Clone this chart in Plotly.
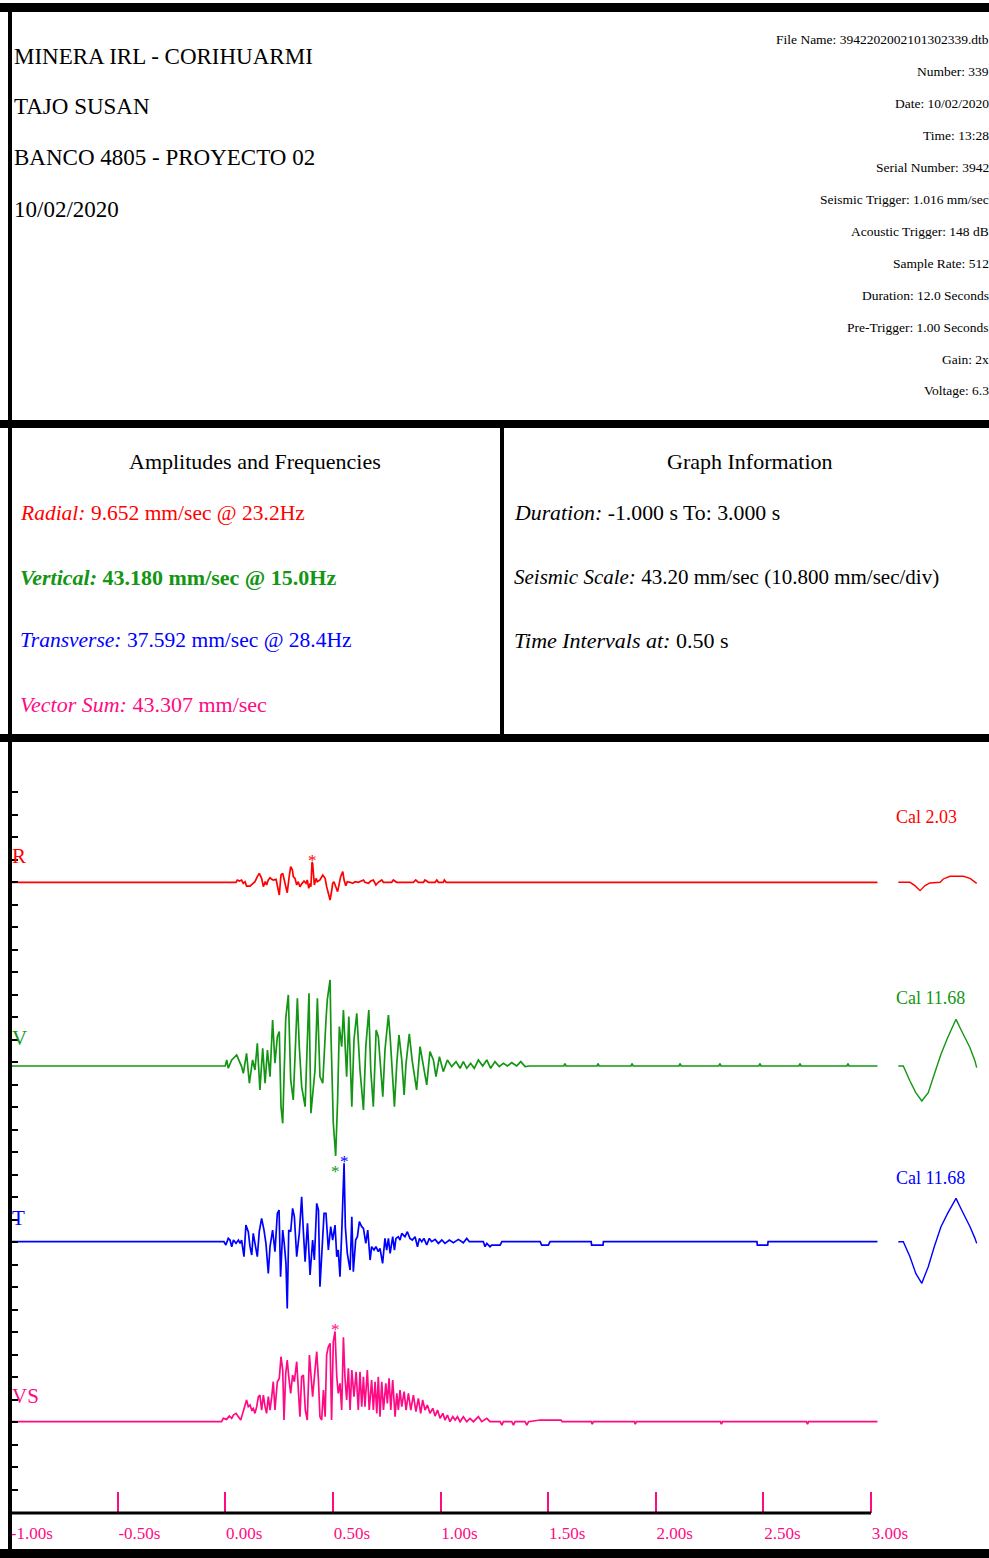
import plotly.graph_objects as go

# ---------------- event values (mm/sec) ----------------
PEAK_R, FREQ_R = 9.652, 23.2
PEAK_V, FREQ_V = 43.180, 15.0
PEAK_T, FREQ_T = 37.592, 28.4
PEAK_VS = 43.307

CHANNELS = ["R", "V", "T", "VS"]

# Radial trace: time (s) / particle velocity (mm/sec)
R_TIME = [
    -1.000, 0.050, 0.056, 0.066, 0.076, 0.084, 0.092, 0.099, 0.115, 0.127,
    0.138, 0.149, 0.158, 0.169, 0.177, 0.186, 0.192, 0.200, 0.208, 0.216,
    0.223, 0.236, 0.242, 0.251, 0.259, 0.267, 0.274, 0.282, 0.288, 0.298,
    0.304, 0.312, 0.316, 0.324, 0.332, 0.339, 0.347, 0.357, 0.366, 0.375,
    0.381, 0.388, 0.394, 0.398, 0.403, 0.406, 0.414, 0.422, 0.428, 0.440,
    0.453, 0.464, 0.471, 0.479, 0.487, 0.495, 0.499, 0.505, 0.515, 0.522,
    0.530, 0.536, 0.546, 0.552, 0.560, 0.567, 0.580, 0.592, 0.603, 0.618,
    0.642, 0.649, 0.665, 0.676, 0.688, 0.700, 0.711, 0.727, 0.735, 0.773,
    0.781, 0.796, 0.874, 0.885, 0.897, 0.921, 0.928, 0.944, 0.975, 0.983,
    0.990, 1.013, 1.018, 1.026, 3.030]
R_VEL = [
    0, 0, 1.1, 0.6, 1.1, -0.5, 0.3, -1.8, -1.8, -0.5,
    0.3, 2.7, 4.3, 1.9, -2.1, 0.3, -1.3, 1.1, 2.2, 1.4,
    1.1, 1.4, -1.3, -6.1, 3.5, 4.3, 1.1, -2.1, -5.0, 3.5,
    7.5, 5.9, 2.7, 1.9, -1.3, 0.3, -2.1, -0.5, 0.6, -0.5,
    1.1, -2.9, -0.5, -2.1, PEAK_R, 9.0, -1.3, 1.9, 0.3, 1.1,
    3.5, 1.9, -2.1, -5.0, -8.5, -3.7, -0.5, 0.3, -2.9, -4.5,
    -0.5, 2.7, 5.1, 1.1, -1.6, 0.3, 0, -0.5, 0.3, 0,
    1.1, 0, -0.5, 0.6, 1.1, -1.3, 0, 1.1, 0, 0,
    1.1, 0, 0, 1.1, 0, 0, 1.1, 0, 0, 1.1,
    0, 0, 1.1, 0, 0]

# Vertical trace
V_TIME = [
    -1.000, 0.000, 0.007, 0.014, 0.030, 0.053, 0.076, 0.084, 0.099, 0.112,
    0.127, 0.138, 0.149, 0.161, 0.174, 0.185, 0.196, 0.208, 0.220, 0.231,
    0.242, 0.251, 0.259, 0.267, 0.281, 0.293, 0.304, 0.316, 0.335, 0.344,
    0.355, 0.371, 0.389, 0.398, 0.417, 0.428, 0.440, 0.453, 0.468, 0.474,
    0.487, 0.491, 0.502, 0.513, 0.522, 0.530, 0.541, 0.549, 0.564, 0.574,
    0.588, 0.598, 0.611, 0.626, 0.642, 0.653, 0.667, 0.676, 0.688, 0.701,
    0.711, 0.732, 0.742, 0.758, 0.766, 0.786, 0.797, 0.807, 0.820, 0.831,
    0.840, 0.855, 0.868, 0.889, 0.905, 0.917, 0.936, 0.951, 0.967, 0.979,
    0.995, 1.013, 1.032, 1.052, 1.072, 1.091, 1.106, 1.122, 1.140, 1.157,
    1.176, 1.196, 1.215, 1.233, 1.253, 1.273, 1.292, 1.311, 1.331, 1.354,
    1.373, 1.393, 1.413,
    1.573, 1.578, 1.583, 1.727, 1.732, 1.737, 1.885, 1.890, 1.895,
    2.108, 2.113, 2.118, 2.293, 2.298, 2.303, 2.479, 2.484, 2.489,
    2.665, 2.670, 2.675, 2.888, 2.893, 2.898, 3.030]
V_VEL = [
    0, 0, 2.9, -1.1, 2.9, 5.3, -0.3, -3.5, 6.1, -8.3,
    2.9, -1.9, 10.9, -11.5, 8.5, -8.3, 7.7, -5.1, 22.1, 1.3,
    14.1, 16.5, -19.5, -27.5, 22.9, 34.1, -6.7, -16.3, 32.5, 9.3,
    -9.9, -19.5, 34.9, -22.7, -1.9, 32.5, -5.1, -8.3, 22.1, 31.7,
    41.3, 15.7, -27.5, -PEAK_V, -16.3, 18.9, 9.3, 26.9, -5.1, 23.7,
    -19.5, 12.5, 25.3, -1.9, -21.1, 9.3, 26.9, -1.9, -19.5, 17.3,
    14.1, -14.7, 7.7, 24.5, 14.1, -19.5, 1.3, 14.9, 2.9, -13.9,
    1.3, 15.4, 2.9, -11.5, 9.3, 2.9, -9.1, 6.9, 2.9, -5.1,
    4.5, -2.7, 2.9, -0.3, 2.1, -1.1, 2.1, -1.1, 1.3, -1.1,
    2.9, 0, 2.9, -1.1, 2.1, -0.3, 1.3, 0, 1.6, 0,
    2.1, -0.3, 0,
    0, 1.2, 0, 0, 1.2, 0, 0, 1.2, 0,
    0, 1.2, 0, 0, 1.2, 0, 0, 1.2, 0,
    0, 1.2, 0, 0, 1.2, 0, 0]

# Transverse trace
T_TIME = [
    -1.000, -0.006, 0.003, 0.014, 0.022, 0.030, 0.038, 0.050, 0.061, 0.069,
    0.076, 0.087, 0.096, 0.107, 0.115, 0.123, 0.130, 0.138, 0.149, 0.158,
    0.169, 0.180, 0.189, 0.200, 0.208, 0.220, 0.231, 0.242, 0.250, 0.257,
    0.267, 0.274, 0.282, 0.288, 0.295, 0.304, 0.313, 0.321, 0.332, 0.344,
    0.355, 0.363, 0.371, 0.382, 0.394, 0.406, 0.414, 0.425, 0.433, 0.440,
    0.450, 0.459, 0.468, 0.479, 0.490, 0.499, 0.510, 0.518, 0.525, 0.533,
    0.541, 0.546, 0.552, 0.558, 0.567, 0.580, 0.588, 0.595, 0.606, 0.614,
    0.623, 0.634, 0.642, 0.653, 0.662, 0.673, 0.680, 0.691, 0.700, 0.711,
    0.719, 0.731, 0.742, 0.750, 0.758, 0.766, 0.778, 0.786, 0.793, 0.804,
    0.812, 0.820, 0.835, 0.846, 0.858, 0.869, 0.882, 0.893, 0.902, 0.913,
    0.923, 0.936, 0.948, 0.959, 0.975, 0.990, 1.006, 1.021, 1.041, 1.060,
    1.083, 1.106, 1.122, 1.134, 1.199, 1.207, 1.215, 1.230, 1.238, 1.277,
    1.285, 1.463, 1.470, 1.501, 1.509,
    1.700, 1.702, 1.755, 1.757, 2.470, 2.472, 2.520, 2.522, 3.030]
T_VEL = [
    0, 0, -1.6, 1.6, 0.8, -2.4, 0.8, -0.8, 0.8, -0.8,
    0.8, -7.2, 8.0, 4.8, -2.4, -6.4, 4.0, -1.6, -7.2, 4.8,
    11.2, 5.6, -0.8, -15.2, -2.4, 5.6, -4.8, 13.6, 15.2, -16.8,
    5.6, -0.8, -10.4, -32.0, 5.6, 4.8, 16.0, 12.0, -7.2, 4.0,
    21.6, 4.8, -9.6, 8.8, -16.0, 0.8, -8.8, 18.4, 15.2, -21.6,
    0.8, 13.6, 13.6, -4.0, 7.2, 0.8, 8.0, -7.2, -4.0, -16.8,
    4.0, 18.4, PEAK_T, 7.2, -5.6, -13.6, 12.0, -14.4, 0.8, 2.4,
    9.6, 7.2, 6.4, -0.8, 5.6, -8.8, -2.4, -4.0, -2.4, -4.8,
    -3.2, -10.4, 1.6, -4.0, 1.6, -5.6, 2.4, -4.0, 1.6, 2.4,
    0.8, 4.0, 2.4, 4.8, 1.6, 0.8, 2.4, -2.4, 1.6, 0,
    1.6, -1.6, 1.6, 0, 1.1, -0.8, 0.8, -0.8, 0.8, -0.5,
    1.1, -0.5, 1.6, 0, 0, -2.4, -0.8, -2.4, -1.6, -1.6,
    0, 0, -1.6, -1.6, 0,
    0, -1.6, -1.6, 0, 0, -1.6, -1.6, 0, 0]

# Vector sum trace
VS_TIME = [
    -1.000, -0.017, -0.009, 0.006, 0.019, 0.030, 0.038, 0.050, 0.061, 0.072,
    0.081, 0.092, 0.099, 0.107, 0.115, 0.123, 0.130, 0.138, 0.146, 0.154,
    0.161, 0.169, 0.177, 0.185, 0.192, 0.200, 0.208, 0.216, 0.223, 0.231,
    0.242, 0.251, 0.259, 0.267, 0.273, 0.281, 0.288, 0.295, 0.304, 0.313,
    0.321, 0.332, 0.340, 0.347, 0.355, 0.363, 0.372, 0.381, 0.391, 0.398,
    0.406, 0.417, 0.425, 0.433, 0.440, 0.448, 0.456, 0.464, 0.471, 0.479,
    0.487, 0.494, 0.502, 0.510, 0.518, 0.525, 0.533, 0.541, 0.549, 0.556,
    0.564, 0.572, 0.580, 0.588, 0.598, 0.608, 0.618, 0.626, 0.634, 0.642,
    0.649, 0.660, 0.669, 0.680, 0.688, 0.696, 0.704, 0.711, 0.719, 0.727,
    0.735, 0.746, 0.753, 0.761, 0.769, 0.778, 0.789, 0.797, 0.804, 0.812,
    0.820, 0.831, 0.840, 0.851, 0.862, 0.874, 0.886, 0.897, 0.908, 0.917,
    0.928, 0.939, 0.951, 0.964, 0.975, 0.986, 0.998, 1.011, 1.021, 1.032,
    1.044, 1.057, 1.068, 1.079, 1.091, 1.106, 1.122, 1.137, 1.153, 1.176,
    1.192, 1.215, 1.230, 1.277, 1.285, 1.292, 1.331, 1.339, 1.346, 1.393,
    1.401, 1.409, 1.463, 1.509,
    1.560, 1.565, 1.700, 1.705, 1.710, 1.900, 1.905, 1.910,
    2.300, 2.305, 2.310, 2.700, 2.705, 2.710, 3.030]
VS_VEL = [
    0, 0, 1.6, 1.1, 2.7, 1.6, 3.2, 4.0, 2.4, 0.8,
    4.0, 8.8, 10.4, 7.2, 8.0, 5.6, 6.4, 4.0, 7.2, 12.0,
    12.8, 5.6, 12.8, 7.2, 4.0, 12.0, 5.6, 12.0, 19.2, 5.6,
    19.2, 20.8, 31.2, 24.8, 0.8, 23.2, 29.6, 21.6, 13.6, 22.4,
    19.2, 28.8, 13.6, 2.4, 21.6, 22.4, 5.6, 0.8, 32.0, 21.6,
    12.0, 24.8, 33.6, 20.0, 2.4, 0.8, 15.2, 2.4, 32.0, 36.0,
    37.6, 0.8, 38.4, PEAK_VS, 21.6, 13.6, 18.4, 5.6, 40.5, 21.6,
    10.4, 25.6, 5.6, 24.8, 12.0, 24.0, 5.6, 24.0, 7.2, 21.6,
    7.2, 24.8, 5.6, 20.0, 5.6, 19.2, 4.0, 21.6, 2.4, 19.2,
    5.6, 18.4, 8.8, 20.8, 5.6, 20.0, 2.4, 13.6, 5.6, 15.2,
    7.2, 14.4, 5.6, 13.6, 5.6, 12.8, 4.8, 11.2, 4.0, 10.4,
    5.6, 8.0, 4.0, 6.4, 2.7, 5.6, 1.6, 4.0, 0.8, 3.2,
    0, 2.4, 0.8, 2.4, 0, 2.4, 0, 1.6, 0, 2.4,
    0, 1.6, 0, 0, -1.6, 0, 0, -1.6, 0, 0,
    -1.6, 0, 0.8, 0.8,
    0.8, 0, 0, -1.2, 0, 0, -1.2, 0,
    0, -1.2, 0, 0, -1.2, 0, 0]

# Calibration pulses
CAL_LABELS = {"R": "Cal 2.03", "V": "Cal 11.68", "T": "Cal 11.68"}
R_CAL_TIME = [3.127, 3.181, 3.204, 3.228, 3.251, 3.274, 3.321, 3.336, 3.367,
              3.429, 3.460, 3.483, 3.491]
R_CAL = [0, 0, -1.6, -4.0, -1.6, -0.3, 0, 1.6, 2.9, 2.9, 1.9, 0, -0.5]
VT_CAL_TIME = [3.127, 3.150, 3.181, 3.208, 3.236, 3.266, 3.294, 3.325, 3.356,
               3.395, 3.421, 3.460, 3.483, 3.491]
V_CAL = [0, 0, -7.2, -12.8, -16.8, -12.8, -4.0, 5.6, 13.6, 22.4, 16.8, 8.8, 2.4, -0.8]
T_CAL = [0, 0, -7.2, -15.2, -20.0, -12.0, -2.4, 7.2, 13.6, 20.8, 15.2, 7.2, 1.6, -0.8]

TIME_TICKS = [-1.0, -0.5, 0.0, 0.5, 1.0, 1.5, 2.0, 2.5, 3.0]
TIME_TICK_LABELS = ["-1.00s", "-0.50s", "0.00s", "0.50s", "1.00s",
                    "1.50s", "2.00s", "2.50s", "3.00s"]

HEADER_LINES = ["MINERA IRL - CORIHUARMI", "TAJO SUSAN",
                "BANCO 4805 - PROYECTO 02", "10/02/2020"]
EVENT_INFO = ["File Name: 3942202002101302339.dtb", "Number: 339",
              "Date: 10/02/2020", "Time: 13:28", "Serial Number: 3942",
              "Seismic Trigger: 1.016 mm/sec", "Acoustic Trigger: 148 dB",
              "Sample Rate: 512", "Duration: 12.0 Seconds",
              "Pre-Trigger: 1.00 Seconds", "Gain: 2x", "Voltage: 6.3"]

SERIES = {
    "R": (R_TIME, R_VEL), "V": (V_TIME, V_VEL),
    "T": (T_TIME, T_VEL), "VS": (VS_TIME, VS_VEL),
}
CALS = {"R": (R_CAL_TIME, R_CAL), "V": (VT_CAL_TIME, V_CAL), "T": (VT_CAL_TIME, T_CAL)}
for k, (tt, vv) in SERIES.items():
    assert len(tt) == len(vv), (k, len(tt), len(vv))
for k, (tt, vv) in CALS.items():
    assert len(tt) == len(vv), (k, len(tt), len(vv))

# ---------------- page geometry ----------------
W, H = 989, 1558
X0_PX = 10.0                 # column of -1.00 s
PX_PER_S = 215.25
PX_PER_MMS = 22.5 / 10.8     # 10.800 mm/sec per division
STRIP = 100.0                # half height of each channel strip (px)
AXIS_PX = 1513.0             # time axis row
SCALE_TOP_PX = 780.0         # top of the division scale
BASE = {"R": 882.3, "V": 1066.0, "T": 1241.7, "VS": 1421.7}
COLORS = {"R": "#ff0000", "V": "#139613", "T": "#0000ff", "VS": "#ff0a84"}
SERIF = "Liberation Serif, Times New Roman, serif"
CLEAR = "rgba(0,0,0,0)"


def fx(p):
    return p / W


def fy(p):
    return 1 - p / H


fig = go.Figure()

# channel traces, each on its own vertical axis
for i, ch in enumerate(CHANNELS, start=1):
    tt, vv = SERIES[ch]
    ya = "y" if i == 1 else f"y{i}"
    fig.add_trace(go.Scatter(x=tt, y=vv, mode="lines", xaxis="x", yaxis=ya,
                             line=dict(color=COLORS[ch], width=1.7),
                             hoverinfo="skip", showlegend=False))
    if ch in CALS:
        ct, cv = CALS[ch]
        fig.add_trace(go.Scatter(x=ct, y=cv, mode="lines", xaxis="x", yaxis=ya,
                                 line=dict(color=COLORS[ch], width=1.4),
                                 hoverinfo="skip", showlegend=False))
    # asterisk at the peak sample
    k = max(range(len(vv)), key=lambda j: abs(vv[j]))
    fig.add_annotation(x=tt[k], y=vv[k], xref="x", yref=ya, text="*",
                       showarrow=False, xanchor="center", yanchor="middle",
                       yshift=2 if vv[k] > 0 else -16,
                       font=dict(family=SERIF, size=17, color=COLORS[ch]))

# division scale on the left edge
fig.add_trace(go.Scatter(x=[], y=[], xaxis="x", yaxis="y5", showlegend=False,
                         hoverinfo="skip"))

layout_axes = {}
for i, ch in enumerate(CHANNELS, start=1):
    name = "yaxis" if i == 1 else f"yaxis{i}"
    b = BASE[ch]
    layout_axes[name] = dict(
        domain=[fy(b + STRIP), fy(b - STRIP)],
        range=[-STRIP / PX_PER_MMS, STRIP / PX_PER_MMS],
        visible=False, anchor="x", fixedrange=True)

layout_axes["yaxis5"] = dict(
    domain=[fy(AXIS_PX), fy(SCALE_TOP_PX)],
    range=[(BASE["R"] - AXIS_PX) / PX_PER_MMS,
           (BASE["R"] - SCALE_TOP_PX) / PX_PER_MMS],
    tick0=0, dtick=10.8, ticks="inside", ticklen=6, tickwidth=2,
    tickcolor="black", showticklabels=False, showgrid=False, zeroline=False,
    showline=True, linecolor="black", linewidth=3,
    anchor="free", position=fx(X0_PX))

PINK = COLORS["VS"]
fig.update_layout(
    width=W, height=H, margin=dict(l=0, r=0, t=0, b=0),
    paper_bgcolor="white", plot_bgcolor=CLEAR,
    xaxis=dict(domain=[fx(X0_PX), 1],
               range=[-1, -1 + (W - X0_PX) / PX_PER_S],
               anchor="free", position=fy(AXIS_PX),
               tickvals=TIME_TICKS, ticktext=TIME_TICK_LABELS,
               ticks="inside", ticklen=21, tickwidth=1.5, tickcolor=PINK,
               ticklabelposition="outside right", ticklabelstandoff=8,
               tickfont=dict(family=SERIF, size=17, color=PINK),
               showgrid=False, zeroline=False, showline=False,
               fixedrange=True),
    **layout_axes,
)

# ---------------- frame ----------------
BLACK = "black"
rects = [
    (0, 3, W, 12),          # top rule
    (8, 3, 12, H),          # left rule
    (0, 420, W, 428),       # under header
    (500, 428, 504, 737),   # between info panels
    (0, 734, W, 742),       # under info panels
    (0, 1549, W, H),        # bottom rule
]
for x0, y0, x1, y1 in rects:
    fig.add_shape(type="rect", xref="paper", yref="paper",
                  x0=fx(x0), x1=fx(x1), y0=fy(y1), y1=fy(y0),
                  fillcolor=BLACK, line=dict(width=0), layer="above")
# time axis rule from -1.00 s to 3.00 s
fig.add_shape(type="line", xref="x", yref="paper",
              x0=TIME_TICKS[0], x1=TIME_TICKS[-1],
              y0=fy(AXIS_PX), y1=fy(AXIS_PX),
              line=dict(color=BLACK, width=3), layer="above")


def note(text, px, py, size, color="black", anchor="left"):
    fig.add_annotation(text=text, x=fx(px), y=fy(py), xref="paper",
                       yref="paper", xanchor=anchor, yanchor="middle",
                       showarrow=False,
                       font=dict(family=SERIF, size=size, color=color))


# header block
for j, line in enumerate(HEADER_LINES):
    note(line, 12, 56 + 51 * j, 23)
for j, line in enumerate(EVENT_INFO):
    note(line, 991, 40 + 31.9 * j, 13.5, anchor="right")

# amplitudes panel
note("Amplitudes and Frequencies", 255, 462, 22, anchor="center")
note(f"<i>Radial:</i> {PEAK_R:.3f} mm/sec @ {FREQ_R:.1f}Hz", 18, 513, 21.5,
     COLORS["R"])
note(f"<b><i>Vertical:</i> {PEAK_V:.3f} mm/sec @ {FREQ_V:.1f}Hz</b>", 18, 577,
     22, COLORS["V"])
note(f"<i>Transverse:</i> {PEAK_T:.3f} mm/sec @ {FREQ_T:.1f}Hz", 18, 640, 21.5,
     COLORS["T"])
note(f"<i>Vector Sum:</i> {PEAK_VS:.3f} mm/sec", 18, 704, 22, COLORS["VS"])

# graph information panel
note("Graph Information", 750, 462, 22, anchor="center")
note("<i>Duration:</i> -1.000 s To: 3.000 s", 512, 513, 21.8)
note("<i>Seismic Scale:</i> 43.20 mm/sec (10.800 mm/sec/div)", 512, 577, 21)
note("<i>Time Intervals at:</i> 0.50 s", 512, 640, 22)

# channel names and calibration labels
LABEL_OFFSET = {"R": 26, "V": 28, "T": 24, "VS": 26}
for ch in CHANNELS:
    note(ch, 10, BASE[ch] - LABEL_OFFSET[ch], 21, COLORS[ch])
CAL_LABEL_ROW = {"R": 817, "V": 998, "T": 1178}
for ch, lab in CAL_LABELS.items():
    note(lab, 894, CAL_LABEL_ROW[ch], 18, COLORS[ch])

fig.write_html("out.html")
